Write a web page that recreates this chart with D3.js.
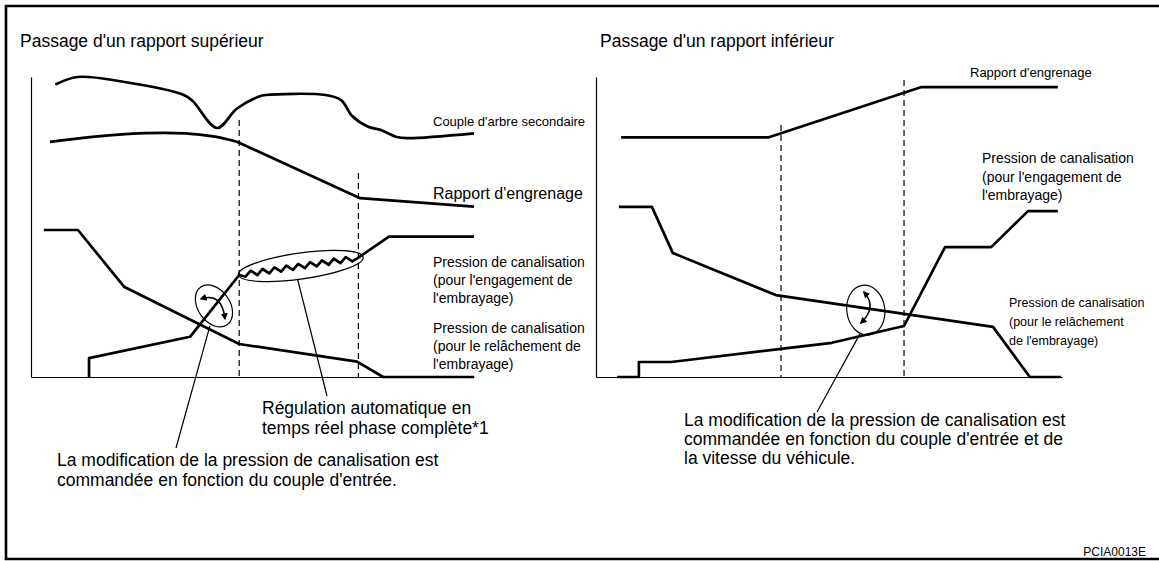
<!DOCTYPE html>
<html>
<head>
<meta charset="utf-8">
<script src="https://cdn.jsdelivr.net/npm/d3@7"></script>
<style>
  body { margin: 0; background: #fff; }
  svg { display: block; }
  text { font-family: "Liberation Sans", Arial, Helvetica, sans-serif; fill: #000; }
</style>
</head>
<body>
<svg id="chart"></svg>
<script>
// values, in % of each panel's time / level span
const upCouple = [[5.5, 97.5], [10.5, 100], [20.5, 98.5], [34.5, 94], [36.5, 92], [42, 83], [46.5, 89.5],
  [51.5, 93.5], [53, 94], [66.5, 94], [70, 92.3], [72.5, 87], [76, 83.5], [79, 82.3], [82.5, 80], [85, 79.6], [100, 81.2]];
const upGear = [[4.3, 78.4], [20.5, 80.9], [34.8, 81.2], [41.5, 80.1], [46.5, 78.4], [74.3, 59.6], [100, 56.8]];
const upGearBend = 4; // smooth up to this point, straight after
const upEngage = [[13.1, 0], [13.1, 6.3], [35.9, 13.4], [47, 34], [73.8, 39.7], [80.8, 46.8], [100, 46.8]];
const upRelease = [[2.9, 49], [10.6, 49], [21, 30.1], [47, 11], [73.6, 5.1], [79.5, 0], [100, 0]];
const upShift = [[47, 85.7], [73.9, 68]]; // x, top of dashed marker
const upRegulated = 3; // segment of upEngage drawn as zigzag

const downGear = [[5.4, 79.9], [37.1, 79.9], [69.7, 96.6], [99.1, 96.6]];
const downEngage = [[4.5, 0], [9.2, 0], [9.2, 5], [16.1, 5], [50.6, 11.4], [66.1, 17], [74.9, 43.3],
  [84.8, 43.3], [92.7, 55.3], [99.1, 55.3]];
const downRelease = [[4.9, 56.7], [12, 56.7], [16.5, 41.3], [38.6, 27.3], [85.2, 16.7], [93.1, 0], [99.8, 0]];
const downShift = [[39.7, 84], [66.1, 99]];

const titles = ["Passage d'un rapport supérieur", "Passage d'un rapport inférieur"];

const width = 1159;
const height = 561;

const svg = d3.select("#chart").attr("width", width).attr("height", height);

const defs = svg.append("defs");
defs.append("marker")
  .attr("id", "head")
  .attr("viewBox", "0 0 10 10")
  .attr("refX", 8).attr("refY", 5)
  .attr("markerWidth", 7).attr("markerHeight", 7)
  .attr("markerUnits", "userSpaceOnUse")
  .attr("orient", "auto-start-reverse")
  .append("path").attr("d", "M0,0L10,5L0,10z").attr("fill", "#000");

// frame
svg.append("path")
  .attr("d", "M1165,6H6V559H1165")
  .attr("fill", "none").attr("stroke", "#000").attr("stroke-width", 2.6);

const yS = d3.scaleLinear().domain([0, 100]).range([377, 77]);
const xL = d3.scaleLinear().domain([0, 100]).range([31, 474]);
const xR = d3.scaleLinear().domain([0, 100]).range([596, 1062]);

function axes(x) {
  svg.append("g").attr("transform", `translate(${x.range()[0]},0)`)
    .call(d3.axisLeft(yS).tickValues([]).tickSizeOuter(0))
    .call(g => g.select(".domain").attr("stroke-width", 1.2));
  svg.append("g").attr("transform", `translate(0,${yS(0)})`)
    .call(d3.axisBottom(x).tickValues([]).tickSizeOuter(0))
    .call(g => g.select(".domain").attr("stroke-width", 1.2));
}
axes(xL);
axes(xR);

function shifts(data, x) {
  svg.append("g").selectAll("line").data(data).join("line")
    .attr("x1", d => x(d[0])).attr("x2", d => x(d[0]))
    .attr("y1", d => yS(d[1])).attr("y2", yS(0))
    .attr("stroke", "#000").attr("stroke-width", 1.2)
    .attr("stroke-dasharray", "6,4");
}
shifts(upShift, xL);
shifts(downShift, xR);

const smooth = (x) => d3.line().x(d => x(d[0])).y(d => yS(d[1])).curve(d3.curveCatmullRom.alpha(0.5));
const straight = (x) => d3.line().x(d => x(d[0])).y(d => yS(d[1]));

function trace(d) {
  svg.append("path").attr("d", d)
    .attr("fill", "none").attr("stroke", "#000").attr("stroke-width", 2.7)
    .attr("stroke-linejoin", "round");
}

// zigzag drawing for the regulated phase
function zigzag(data, seg, x) {
  const p = data.map(d => [x(d[0]), yS(d[1])]);
  let s = "M" + p[0];
  for (let i = 1; i < p.length; i++) {
    if (i - 1 === seg) {
      const [x0, y0] = p[i - 1], [x1, y1] = p[i];
      const len = Math.hypot(x1 - x0, y1 - y0);
      const nx = -(y1 - y0) / len, ny = (x1 - x0) / len;
      const n = Math.round(len / 6);
      for (let k = 1; k < n; k++) {
        const t = k / n, a = k % 2 ? 2.6 : -2.6;
        s += "L" + [x0 + (x1 - x0) * t + nx * a, y0 + (y1 - y0) * t + ny * a];
      }
    }
    s += "L" + p[i];
  }
  return s;
}

trace(smooth(xL)(upCouple));
trace(smooth(xL)(upGear.slice(0, upGearBend + 1)));
trace(straight(xL)(upGear.slice(upGearBend)));
trace(zigzag(upEngage, upRegulated, xL));
trace(straight(xL)(upRelease));

trace(straight(xR)(downGear));
trace(straight(xR)(downEngage));
trace(straight(xR)(downRelease));

// annotations
const thin = (sel) => sel.attr("fill", "none").attr("stroke", "#000").attr("stroke-width", 1.2);

function ellipse(cx, cy, rx, ry, a) {
  svg.append("ellipse").attr("cx", 0).attr("cy", 0).attr("rx", rx).attr("ry", ry)
    .attr("transform", `translate(${cx},${cy}) rotate(${a})`).call(thin);
}
const e1 = [xL(41.3), yS(23.7)];
const e2 = [xL(60.9), yS(37)];
const e3 = [xR(57.9), yS(22.3)];
ellipse(e1[0], e1[1], 16, 23, -35);
ellipse(e2[0], e2[1], 63, 13, -8);
ellipse(e3[0], e3[1], 19, 25, -8);

svg.append("path")
  .attr("d", `M${e1[0] - 13},${e1[1] - 7}Q${e1[0] + 8},${e1[1] - 14} ${e1[0] + 11},${e1[1] + 13}`)
  .call(thin).attr("stroke-width", 1.5)
  .attr("marker-start", "url(#head)").attr("marker-end", "url(#head)");
svg.append("path")
  .attr("d", `M${e3[0] - 2},${e3[1] - 18}Q${e3[0] + 12},${e3[1] - 3} ${e3[0] - 5},${e3[1] + 13}`)
  .call(thin).attr("stroke-width", 1.5)
  .attr("marker-start", "url(#head)").attr("marker-end", "url(#head)");

svg.append("line").attr("x1", e1[0] - 4).attr("y1", e1[1] + 20).attr("x2", 176).attr("y2", 448).call(thin);
svg.append("line").attr("x1", e2[0] - 3).attr("y1", e2[1] + 14).attr("x2", 327).attr("y2", 396).call(thin);
svg.append("line").attr("x1", e3[0] - 6).attr("y1", e3[1] + 24).attr("x2", 817).attr("y2", 412).call(thin);

// texts
function label(x, y, lines, size, gap) {
  const t = svg.append("text").attr("x", x).attr("y", y).attr("font-size", size);
  lines.forEach((l, i) => t.append("tspan").attr("x", x).attr("dy", i ? gap : 0).text(l));
}

label(20, 47, [titles[0]], 17.5, 0);
label(600, 47, [titles[1]], 17.5, 0);

label(433, 126, ["Couple d'arbre secondaire"], 13, 0);
label(433, 199, ["Rapport d'engrenage"], 16, 0);
label(433, 267, ["Pression de canalisation", "(pour l'engagement de", "l'embrayage)"], 14, 18);
label(433, 333, ["Pression de canalisation", "(pour le relâchement de", "l'embrayage)"], 14, 18);

label(970, 77, ["Rapport d'engrenage"], 13, 0);
label(982, 163, ["Pression de canalisation", "(pour l'engagement de", "l'embrayage)"], 14, 18.5);
label(1009, 307, ["Pression de canalisation", "(pour le relâchement", "de l'embrayage)"], 12.5, 19);

label(262, 414, ["Régulation automatique en", "temps réel phase complète*1"], 17.5, 20);
label(57, 466, ["La modification de la pression de canalisation est", "commandée en fonction du couple d'entrée."], 17.5, 20);
label(684, 426, ["La modification de la pression de canalisation est",
  "commandée en fonction du couple d'entrée et de", "la vitesse du véhicule."], 17.5, 19);

svg.append("text").attr("x", 1146).attr("y", 556).attr("text-anchor", "end")
  .attr("font-size", 12).text("PCIA0013E");
</script>
</body>
</html>
